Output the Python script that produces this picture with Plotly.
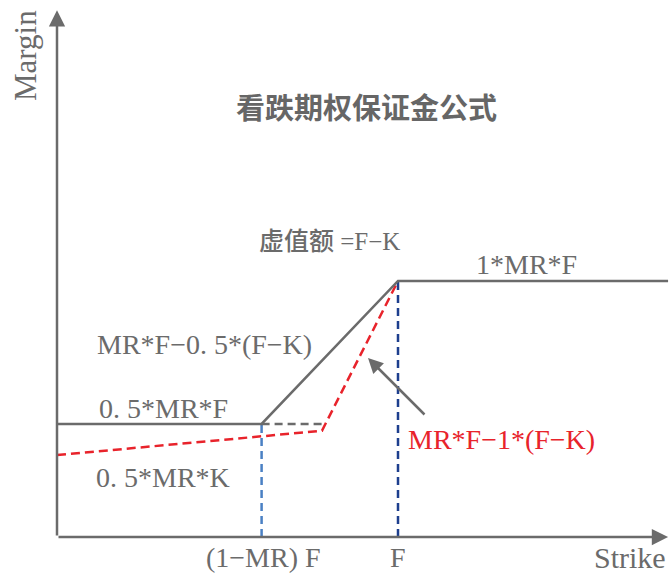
import plotly.graph_objects as go

# Schematic diagram values (diagram units)
F = 100
MR = 0.4
K_low = (1 - MR) * F          # (1-MR)F
x_axis_end = 179.2
y_axis_end = 82.3
margin_high = 40.0            # 1*MR*F level
margin_low = 17.66            # 0.5*MR*F level
red_x = [0, 77.7, F]
red_y = [12.8, 16.6, margin_high]
gray_x = [0, K_low, F, x_axis_end]
gray_y = [margin_low, margin_low, margin_high, margin_high]
gray_dash_x = [K_low, 77.7]
gray_dash_y = [margin_low, margin_low]

GRAY = "#6b6b6b"
RED = "#e8232b"
BLUE_L = "#4a80c4"
BLUE_D = "#1d3f8e"
SERIF = "Liberation Serif, DejaVu Serif, serif"
CJK = "Noto Sans CJK SC, sans-serif"

SX = 3.41   # px per x unit
SY = 6.4    # px per y unit
def px2x(p): return (p - 57) / SX
def px2y(p): return (537 - p) / SY

fig = go.Figure()
fig.add_trace(go.Scatter(x=[K_low, K_low], y=[0, margin_low], mode="lines",
                         line=dict(color=BLUE_L, width=2.5, dash="8px,5px"), cliponaxis=False))
fig.add_trace(go.Scatter(x=[F, F], y=[0, margin_high], mode="lines",
                         line=dict(color=BLUE_D, width=2.5, dash="8px,5px"), cliponaxis=False))
fig.add_trace(go.Scatter(x=gray_dash_x, y=gray_dash_y, mode="lines",
                         line=dict(color=GRAY, width=2.5, dash="8px,5px")))
fig.add_trace(go.Scatter(x=red_x, y=red_y, mode="lines",
                         line=dict(color=RED, width=2.5, dash="9px,5px")))
fig.add_trace(go.Scatter(x=gray_x, y=gray_y, mode="lines",
                         line=dict(color=GRAY, width=2.5)))

anns = []
# axes arrows
anns.append(dict(x=x_axis_end, y=0, ax=0, ay=0, xref="x", yref="y", axref="x", ayref="y",
                 showarrow=True, arrowhead=2, arrowsize=1.3, arrowwidth=2.5, arrowcolor=GRAY, text=""))
anns.append(dict(x=0, y=y_axis_end, ax=0, ay=0, xref="x", yref="y", axref="x", ayref="y",
                 showarrow=True, arrowhead=2, arrowsize=1.3, arrowwidth=2.5, arrowcolor=GRAY, text=""))
# pointer arrow
anns.append(dict(x=px2x(368), y=px2y(358), ax=px2x(426), ay=px2y(416), xref="x", yref="y",
                 axref="x", ayref="y",
                 showarrow=True, arrowhead=2, arrowsize=1.2, arrowwidth=2.5, arrowcolor=GRAY, text=""))

def txt(px, py, s, size=28, color=GRAY, family=SERIF, **kw):
    anns.append(dict(x=px2x(px), y=px2y(py), xref="x", yref="y", text=s, showarrow=False,
                     font=dict(family=family, size=size, color=color), **kw))

txt(25, 56, "Margin", size=31, textangle=-90)
txt(366, 106, "<b>看跌期权保证金公式</b>", size=29, family=CJK, color="#666666")
txt(329, 239, "<span style='font-family:Noto Sans CJK SC;font-weight:500'>虚值额</span> =F−K", size=25)
txt(526, 264, "1*MR*F")
txt(204, 344, "MR*F−0. 5*(F−K)")
txt(163, 408, "0. 5*MR*F")
txt(163, 477, "0. 5*MR*K")
txt(501, 439, "MR*F−1*(F−K)", color=RED)
txt(263, 557, "(1−MR) F")
txt(398, 557, "F")
txt(630, 557, "Strike", size=30)

fig.update_layout(
    width=670, height=575,
    margin=dict(l=0, r=0, t=0, b=0, autoexpand=False),
    paper_bgcolor="white", plot_bgcolor="white",
    showlegend=False,
    xaxis=dict(range=[px2x(0), px2x(670)], visible=False, fixedrange=True),
    yaxis=dict(range=[px2y(575), px2y(0)], visible=False, fixedrange=True),
    annotations=anns,
)
fig.write_html("out.html", config={"displayModeBar": False},
               post_script="document.body.style.margin='0';document.body.style.overflow='hidden';")
